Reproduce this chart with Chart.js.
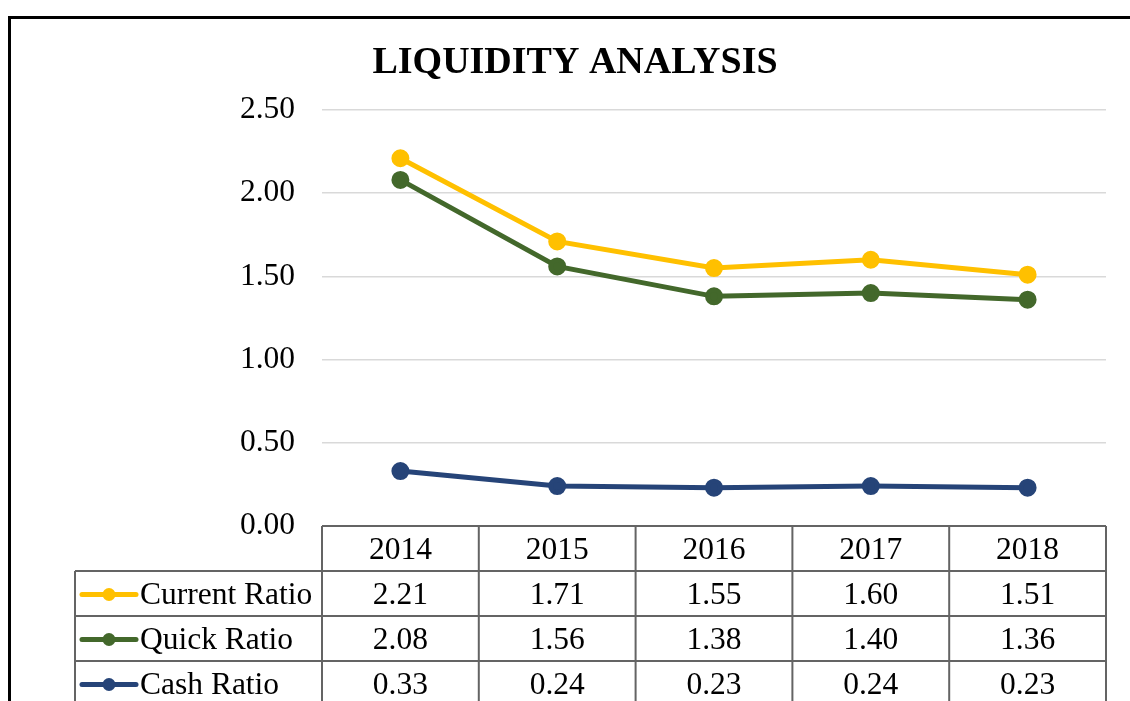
<!DOCTYPE html>
<html>
<head>
<meta charset="utf-8">
<script src="https://cdn.jsdelivr.net/npm/chart.js@4.4.0/dist/chart.umd.min.js"></script>
<style>
  html, body { margin: 0; padding: 0; background: #fff; }
  #wrap { width: 1130px; height: 701px; }
</style>
</head>
<body>
<div id="wrap"><canvas id="liquidityChart" width="1130" height="701"></canvas></div>
<script>
const years = ['2014', '2015', '2016', '2017', '2018'];
const currentRatio = [2.21, 1.71, 1.55, 1.60, 1.51];
const quickRatio = [2.08, 1.56, 1.38, 1.40, 1.36];
const cashRatio = [0.33, 0.24, 0.23, 0.24, 0.23];
const seriesNames = ['Current Ratio', 'Quick Ratio', 'Cash Ratio'];
const seriesColors = ['#FFC000', '#43682B', '#264478'];
const chartTitle = 'LIQUIDITY ANALYSIS';

const serif = '"Liberation Serif", "Times New Roman", serif';

// --------------------------------------------------
//  FRAME + TITLE
// --------------------------------------------------
const framePlugin = {
    id: 'frame',
    beforeDraw(chart) {
        const ctx = chart.ctx;
        ctx.save();
        ctx.strokeStyle = '#000';
        ctx.lineWidth = 3;
        ctx.beginPath();
        ctx.moveTo(9.5, chart.height);
        ctx.lineTo(9.5, 17.5);
        ctx.lineTo(chart.width, 17.5);
        ctx.stroke();

        ctx.fillStyle = '#000';
        ctx.font = 'bold 38px ' + serif;
        ctx.textAlign = 'center';
        ctx.textBaseline = 'middle';
        ctx.fillText(chartTitle, 575, 63);
        ctx.restore();
    }
};

// --------------------------------------------------
//  DATA TABLE under the plot
// --------------------------------------------------
const dataTablePlugin = {
    id: 'dataTable',
    afterDraw(chart) {
        const ctx = chart.ctx;
        const area = chart.chartArea;
        const xScale = chart.scales.x;
        const colW = (area.right - area.left) / years.length;
        const rowH = 45;
        const labelLeft = 75;
        const top = area.bottom;

        ctx.save();
        ctx.strokeStyle = '#646464';
        ctx.lineWidth = 2;

        ctx.beginPath();
        ctx.moveTo(area.left, top);
        ctx.lineTo(area.right, top);
        for (let i = 0; i <= years.length; i++) {
            const x = area.left + i * colW;
            ctx.moveTo(x, top);
            ctx.lineTo(x, chart.height);
        }
        for (let r = 1; r <= seriesNames.length; r++) {
            const y = top + r * rowH;
            ctx.moveTo(labelLeft, y);
            ctx.lineTo(area.right, y);
        }
        ctx.moveTo(labelLeft, top + rowH);
        ctx.lineTo(labelLeft, chart.height);
        ctx.stroke();

        ctx.fillStyle = '#000';
        ctx.font = '31.5px ' + serif;
        ctx.textAlign = 'center';
        ctx.textBaseline = 'middle';
        years.forEach((yr, i) => {
            ctx.fillText(yr, xScale.getPixelForValue(i), top + rowH / 2 + 2);
        });

        chart.data.datasets.forEach((ds, r) => {
            const cy = top + (r + 1) * rowH + rowH / 2 + 2;
            ctx.textAlign = 'center';
            ds.data.forEach((v, i) => {
                ctx.fillText(v.toFixed(2), xScale.getPixelForValue(i), cy);
            });
            // legend key
            const ky = cy - 1;
            ctx.strokeStyle = ds.borderColor;
            ctx.lineWidth = 5;
            ctx.lineCap = 'round';
            ctx.beginPath();
            ctx.moveTo(82, ky);
            ctx.lineTo(136, ky);
            ctx.stroke();
            ctx.fillStyle = ds.borderColor;
            ctx.beginPath();
            ctx.arc(109, ky, 6.5, 0, Math.PI * 2);
            ctx.fill();
            ctx.fillStyle = '#000';
            ctx.textAlign = 'left';
            ctx.fillText(ds.label, 140, cy);
        });
        ctx.restore();
    }
};

const ctx = document.getElementById('liquidityChart').getContext('2d');

new Chart(ctx, {
    type: 'line',
    data: {
        labels: years,
        datasets: [currentRatio, quickRatio, cashRatio].map((vals, i) => ({
            label: seriesNames[i],
            data: vals,
            borderColor: seriesColors[i],
            backgroundColor: seriesColors[i],
            pointBackgroundColor: seriesColors[i],
            pointBorderColor: seriesColors[i],
            borderWidth: 5,
            pointRadius: 6.5,
            tension: 0,
            fill: false
        }))
    },
    options: {
        responsive: false,
        animation: false,
        layout: { padding: { left: 10, right: 24, top: 110, bottom: 175 } },
        plugins: {
            legend: { display: false },
            tooltip: { enabled: false },
            title: { display: false }
        },
        scales: {
            x: {
                display: false,
                offset: true
            },
            y: {
                min: 0,
                max: 2.5,
                border: { display: false },
                grid: { color: '#d9d9d9', lineWidth: 1.5, drawTicks: false },
                ticks: {
                    stepSize: 0.5,
                    padding: 27,
                    color: '#000',
                    font: { family: serif, size: 31.5 },
                    callback: v => v.toFixed(2)
                },
                afterFit(scale) { scale.width = 312; }
            }
        }
    },
    plugins: [framePlugin, dataTablePlugin]
});
</script>
</body>
</html>
